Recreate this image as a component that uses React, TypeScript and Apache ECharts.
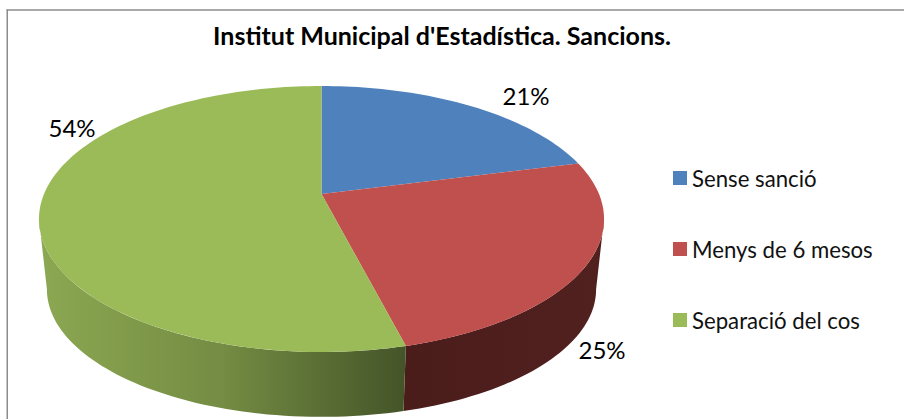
import React, { useEffect, useRef } from "react";
import * as echarts from "echarts";

const categories = ["Sense sanció", "Menys de 6 mesos", "Separació del cos"];
const shares = [21, 25, 54];
const shareLabels = ["21%", "25%", "54%"];
const faceColors = ["#4f81bd", "#c0504d", "#9bbb59"];

const FONT = "Lato";
const TITLE = "Institut Municipal d'Estadística. Sancions.";

// Perspective projection of the pie's unit circle onto the page.
const TILT = 0.188;
const TOP_FACE = { cx: 321.5, cy: 194, a: 277.5, b: 128.3 };
const BOTTOM_FACE = { cx: 321.5, cy: 265.4, a: 269.7, b: 123 };
const RIM_FROM = 100.8;
const RIM_TO = 259.2;

type Face = typeof TOP_FACE;

function project(face: Face, deg: number): number[] {
  const t = (deg * Math.PI) / 180;
  const u = Math.sin(t);
  const v = -Math.cos(t);
  const w = 1 - TILT * v;
  return [face.cx + (face.a * u) / w, face.cy + (face.b * v) / w];
}

function arc(face: Face, from: number, to: number): number[][] {
  const steps = Math.max(2, Math.ceil((to - from) / 1.5));
  const pts: number[][] = [];
  for (let i = 0; i <= steps; i++) pts.push(project(face, from + ((to - from) * i) / steps));
  return pts;
}

const rimFills: any[] = [
  null,
  {
    type: "linear", x: 0, y: 0, x2: 1, y2: 0,
    colorStops: [
      { offset: 0, color: "#4a1c1a" },
      { offset: 1, color: "#512120" },
    ],
  },
  {
    type: "linear", x: 0, y: 0, x2: 1, y2: 0,
    colorStops: [
      { offset: 0, color: "#8ca852" },
      { offset: 0.5, color: "#748c43" },
      { offset: 1, color: "#445428" },
    ],
  },
];

const total = shares.reduce((s, v) => s + v, 0);

function sliceRange(index: number): number[] {
  const before = shares.slice(0, index).reduce((s, v) => s + v, 0);
  return [(before / total) * 360, ((before + shares[index]) / total) * 360];
}

function renderSlice(index: number) {
  return (_params: any, api: any) => {
    const span = (api.value(0) / total) * 360;
    const start = sliceRange(index)[0];
    const end = start + span;
    const children: any[] = [];
    const rimStart = Math.max(start, RIM_FROM);
    const rimEnd = Math.min(end, RIM_TO);
    if (rimEnd > rimStart && rimFills[index]) {
      children.push({
        type: "polygon",
        shape: {
          points: [...arc(TOP_FACE, rimStart, rimEnd), ...arc(BOTTOM_FACE, rimStart, rimEnd).reverse()],
        },
        style: { fill: rimFills[index] },
      });
    }
    children.push({
      type: "polygon",
      shape: { points: [[TOP_FACE.cx, TOP_FACE.cy], ...arc(TOP_FACE, start, end)] },
      style: { fill: faceColors[index] },
    });
    return { type: "group", children };
  };
}

const labelCentres = [
  [526, 95.5],
  [602, 349],
  [72, 127.5],
];

export default function App() {
  const ref = useRef<HTMLDivElement>(null);

  useEffect(() => {
    const chart = echarts.init(ref.current!, null, { renderer: "svg" });
    chart.setOption({
      animation: false,
      backgroundColor: "#ffffff",
      title: {
        text: TITLE,
        left: 437,
        top: 17,
        textAlign: "center",
        textStyle: { fontFamily: FONT, fontSize: 25, fontWeight: "bold", color: "#000000" },
      },
      legend: {
        orient: "vertical",
        left: 673,
        top: 164,
        icon: "rect",
        itemWidth: 14,
        itemHeight: 14,
        itemGap: 43,
        padding: 0,
        data: categories,
        textStyle: { fontFamily: FONT, fontSize: 22.2, color: "#111111", padding: [0, 0, 0, 0], lineHeight: 28 },
      },
      series: categories.map((name, i) => ({
        type: "custom",
        name,
        coordinateSystem: "none",
        silent: true,
        itemStyle: { color: faceColors[i] },
        data: [[shares[i]]],
        encode: { value: 0 },
        renderItem: renderSlice(i),
      })),
      graphic: [
        { type: "line", shape: { x1: 7.25, y1: 9.5, x2: 7.25, y2: 419 }, style: { stroke: "#8c8c8c", lineWidth: 1.5 } },
        { type: "line", shape: { x1: 6.5, y1: 10, x2: 904, y2: 10 }, style: { stroke: "#8c8c8c", lineWidth: 1.5 } },
        ...shareLabels.map((text, i) => ({
          type: "text",
          x: labelCentres[i][0],
          y: labelCentres[i][1],
          style: {
            text,
            fontFamily: FONT,
            fontSize: 24,
            fill: "#000000",
            align: "center",
            verticalAlign: "middle",
          },
        })),
      ],
    });
    return () => chart.dispose();
  }, []);

  return <div ref={ref} style={{ position: "absolute", left: 0, top: 0, width: 904, height: 419 }} />;
}
